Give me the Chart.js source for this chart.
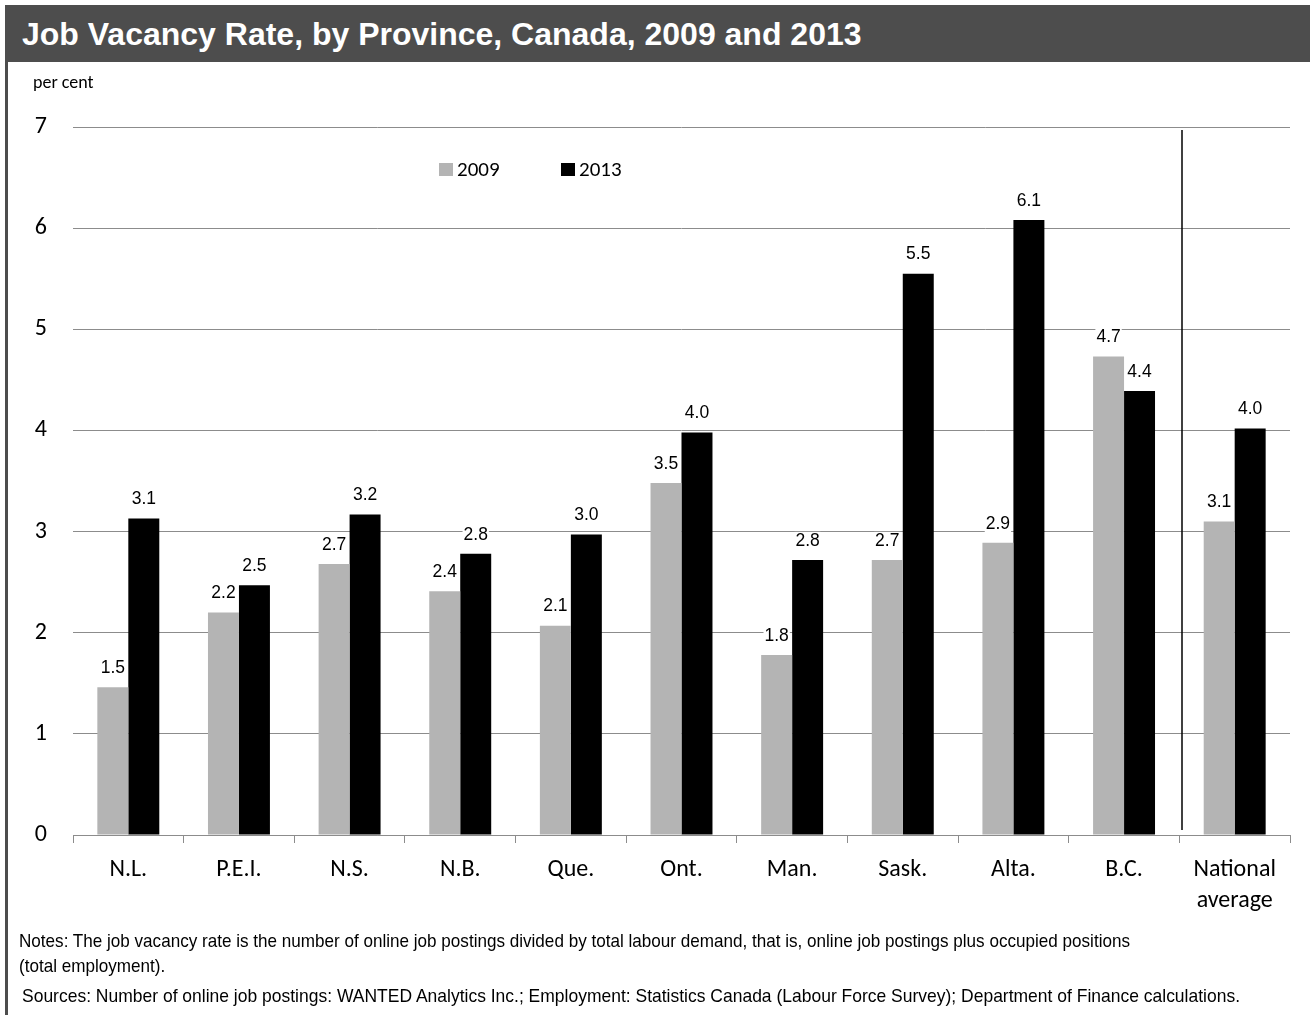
<!DOCTYPE html>
<html>
<head>
<meta charset="utf-8">
<script src="https://cdn.jsdelivr.net/npm/chart.js@4.4.0/dist/chart.umd.min.js"></script>
<style>
html,body{margin:0;padding:0;background:#fff;}
#wrap{position:relative;width:1310px;height:1015px;overflow:hidden;}
#titlebar{position:absolute;left:5px;top:5px;width:1305px;height:57px;background:#4d4d4d;}
#title{position:absolute;left:22px;top:16px;color:#fff;font-family:"Liberation Sans",Arial,sans-serif;font-weight:bold;font-size:32px;line-height:36px;white-space:nowrap;}
#border{position:absolute;left:5px;top:5px;width:3px;height:1010px;background:#4d4d4d;}
#unit{position:absolute;left:33px;top:71px;font-family:Carlito,Lato,sans-serif;font-size:18px;line-height:22px;color:#000;}
#chart{position:absolute;left:0;top:0;}
.note{position:absolute;font-family:"Liberation Sans Narrow","Arial Narrow","Liberation Sans",Arial,sans-serif;font-size:19px;line-height:22px;color:#000;white-space:nowrap;transform-origin:0 0;}
</style>
</head>
<body>
<div id="wrap">
  <canvas id="chart" width="1310" height="1015"></canvas>
  <div id="titlebar"></div>
  <div id="border"></div>
  <div id="title">Job Vacancy Rate, by Province, Canada, 2009 and 2013</div>
  <div id="unit">per cent</div>
  <div class="note" id="n1" style="left:19px;top:930px;">Notes: The job vacancy rate is the number of online job postings divided by total labour demand, that is, online job postings plus occupied positions</div>
  <div class="note" id="n2" style="left:19px;top:955px;">(total employment).</div>
  <div class="note" id="n3" style="left:22px;top:985px;">Sources: Number of online job postings: WANTED Analytics Inc.; Employment: Statistics Canada (Labour Force Survey); Department of Finance calculations.</div>
</div>
<script>
const categories = ['N.L.', 'P.E.I.', 'N.S.', 'N.B.', 'Que.', 'Ont.', 'Man.', 'Sask.', 'Alta.', 'B.C.', ['National', 'average']];
const seriesNames = ['2009', '2013'];
const rate2009 = [1.46, 2.20, 2.68, 2.41, 2.07, 3.48, 1.78, 2.72, 2.89, 4.73, 3.10];
const rate2013 = [3.13, 2.47, 3.17, 2.78, 2.97, 3.98, 2.72, 5.55, 6.08, 4.39, 4.02];
const labels2009 = ['1.5', '2.2', '2.7', '2.4', '2.1', '3.5', '1.8', '2.7', '2.9', '4.7', '3.1'];
const labels2013 = ['3.1', '2.5', '3.2', '2.8', '3.0', '4.0', '2.8', '5.5', '6.1', '4.4', '4.0'];
const yMin = 0, yMax = 7, yStep = 1;

// fit notes to their measured widths in the reference
const noteWidths = {n1: 1111, n3: 1218};
Object.keys(noteWidths).forEach(id => {
  const el = document.getElementById(id);
  const w = el.getBoundingClientRect().width;
  if (w > 0) {
    const s = noteWidths[id] / w;
    el.style.transform = 'scaleX(' + s + ')';
    if (id === 'n1') document.getElementById('n2').style.transform = 'scaleX(' + s + ')';
  }
});

const colors = ['#b4b4b4', '#000000'];
const gridColor = '#8c8c8c';
const sansFont = 'Carlito, Lato, sans-serif';

const annotate = {
  id: 'annotate',
  afterDatasetsDraw(chart) {
    const ctx = chart.ctx;
    const xs = chart.scales.x;
    const ca = chart.chartArea;
    ctx.save();
    // separator between provinces and national average
    const sx = Math.round((xs.getPixelForValue(9) + xs.getPixelForValue(10)) / 2) + 3;
    ctx.strokeStyle = '#000';
    ctx.lineWidth = 1.5;
    ctx.beginPath();
    ctx.moveTo(sx, ca.top + 3);
    ctx.lineTo(sx, ca.bottom - 5);
    ctx.stroke();
    // value labels
    ctx.font = '17.5px "Liberation Sans", Arial, sans-serif';
    ctx.textAlign = 'center';
    ctx.textBaseline = 'middle';
    [labels2009, labels2013].forEach((labs, di) => {
      chart.getDatasetMeta(di).data.forEach((bar, i) => {
        const t = labs[i];
        const w = ctx.measureText(t).width;
        const cy = bar.y - 19;
        ctx.fillStyle = '#fff';
        ctx.fillRect(bar.x - w / 2 - 1, cy - 9, w + 2, 18);
        ctx.fillStyle = '#000';
        ctx.fillText(t, bar.x, cy);
      });
    });
    // legend
    ctx.font = '21px ' + sansFont;
    ctx.textAlign = 'left';
    ctx.textBaseline = 'alphabetic';
    const lx = [ca.left + 366, ca.left + 488];
    seriesNames.forEach((name, i) => {
      ctx.fillStyle = colors[i];
      ctx.fillRect(lx[i], ca.top + 36, 14, 13);
      ctx.fillStyle = '#000';
      ctx.fillText(name, lx[i] + 18, ca.top + 49);
    });
    ctx.restore();
  }
};

new Chart(document.getElementById('chart'), {
  type: 'bar',
  data: {
    labels: categories,
    datasets: [
      {label: seriesNames[0], data: rate2009, backgroundColor: colors[0], borderWidth: 0},
      {label: seriesNames[1], data: rate2013, backgroundColor: colors[1], borderWidth: 0}
    ]
  },
  options: {
    responsive: false,
    animation: false,
    devicePixelRatio: 1,
    categoryPercentage: 0.56,
    barPercentage: 1.0,
    layout: {padding: {left: 0, top: 127, right: 20, bottom: 80}},
    plugins: {legend: {display: false}, tooltip: {enabled: false}, title: {display: false}},
    scales: {
      x: {
        grid: {offset: true, drawOnChartArea: false, drawTicks: true, tickLength: 8, color: gridColor, lineWidth: 1},
        border: {display: true, color: gridColor, width: 1},
        ticks: {font: {family: sansFont, size: 24, lineHeight: 1.3}, color: '#000', maxRotation: 0, autoSkip: false, padding: 11},
        afterFit(scale) { scale.height = 100; }
      },
      y: {
        min: yMin, max: yMax,
        grid: {drawTicks: false, color: gridColor, lineWidth: 1},
        border: {display: false},
        ticks: {stepSize: yStep, font: {family: sansFont, size: 24}, color: '#000', padding: 26},
        afterFit(scale) { scale.width = 73; }
      }
    }
  },
  plugins: [annotate]
});
</script>
</body>
</html>
